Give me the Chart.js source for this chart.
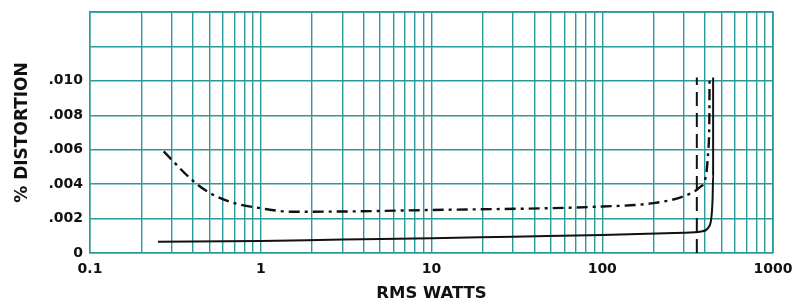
<!DOCTYPE html>
<html>
<head>
<meta charset="UTF-8">
<title>RMS Watts vs % Distortion</title>
<script src="https://cdn.jsdelivr.net/npm/chart.js"></script>
<style>
  html, body { margin: 0; padding: 0; background: #fff; }
  #wrap { width: 808px; height: 305px; }
</style>
</head>
<body>
<div id="wrap"><canvas id="distChart"></canvas></div>
<script>
// solid curve
const solidX = [0.25, 1, 3, 10, 30, 100, 300, 380, 420, 436, 443, 446, 446];
const solidY = [0.00065, 0.0007, 0.00078, 0.00085, 0.00095, 0.00105, 0.00118, 0.00125, 0.0015, 0.0021, 0.0032, 0.0045, 0.0102];

// dash-dot curve
const dashDotX = [0.27, 0.4, 0.5, 0.7, 1, 1.5, 2, 10, 100, 200, 300, 370, 405, 418, 424, 425];
const dashDotY = [0.0059, 0.0042, 0.0035, 0.0029, 0.0026, 0.0024, 0.0024, 0.0025, 0.0027, 0.0029, 0.0033, 0.0038, 0.0045, 0.006, 0.008, 0.0102];

// dashed vertical
const dashedX = [358, 358];
const dashedY = [0, 0.0102];

const xTickLabels = { 0.1: '0.1', 1: '1', 10: '10', 100: '100', 1000: '1000' };
const yTickValues = [0, 0.002, 0.004, 0.006, 0.008, 0.010, 0.012, 0.014];
const yTickLabels = ['0', '.002', '.004', '.006', '.008', '.010', '', ''];

const gridColor = '#2a9a9a';
const font = 'DejaVu Sans';

function pts(xs, ys) {
  return xs.map((x, i) => ({ x: x, y: ys[i] }));
}

const ctx = document.getElementById('distChart').getContext('2d');
new Chart(ctx, {
  type: 'line',
  data: {
    datasets: [{
      data: pts(solidX, solidY),
      borderColor: '#111',
      borderWidth: 2,
      pointRadius: 0,
      cubicInterpolationMode: 'monotone'
    }, {
      data: pts(dashDotX, dashDotY),
      borderColor: '#111',
      borderWidth: 2.4,
      borderDash: [11, 5, 3, 5],
      pointRadius: 0,
      cubicInterpolationMode: 'monotone'
    }, {
      data: pts(dashedX, dashedY),
      borderColor: '#111',
      borderWidth: 2,
      borderDash: [14, 7],
      pointRadius: 0
    }]
  },
  options: {
    responsive: true,
    maintainAspectRatio: false,
    animation: false,
    layout: { padding: { top: 12, right: 35, left: 0, bottom: 0 } },
    plugins: { legend: { display: false }, tooltip: { enabled: false } },
    scales: {
      x: {
        type: 'logarithmic',
        min: 0.1,
        max: 1000,
        afterBuildTicks: function(scale) {
          const t = [];
          for (let e = -1; e < 3; e++) {
            for (let m = 1; m < 10; m++) t.push({ value: m * Math.pow(10, e) });
          }
          t.push({ value: 1000 });
          scale.ticks = t;
        },
        afterFit: function(scale) { scale.height = 52; },
        border: { color: gridColor, width: 1.5 },
        grid: { color: gridColor, lineWidth: 1.4, drawTicks: false },
        ticks: {
          autoSkip: false,
          maxRotation: 0,
          padding: 8,
          color: '#111',
          font: { family: font, size: 14, weight: 'bold' },
          callback: function(v) {
            const k = Number(v.toPrecision(3));
            return xTickLabels[k] !== undefined ? xTickLabels[k] : '';
          }
        },
        title: {
          display: true,
          text: 'RMS WATTS',
          color: '#111',
          padding: { top: 0, bottom: 1 },
          font: { family: font, size: 16.5, weight: 'bold' }
        }
      },
      y: {
        min: 0,
        max: 0.014,
        afterBuildTicks: function(scale) {
          scale.ticks = yTickValues.map(v => ({ value: v }));
        },
        afterFit: function(scale) {
          scale.width = 90;
          scale.paddingTop = 0;
          scale.paddingBottom = 0;
        },
        border: { color: gridColor, width: 1.5 },
        grid: { color: gridColor, lineWidth: 1.4, drawTicks: false },
        ticks: {
          padding: 7,
          color: '#111',
          font: { family: font, size: 14, weight: 'bold' },
          callback: function(v, i) { return yTickLabels[i]; }
        },
        title: {
          display: true,
          text: '% DISTORTION',
          color: '#111',
          padding: { top: 12, bottom: 0 },
          font: { family: font, size: 17, weight: 'bold' }
        }
      }
    }
  },
  plugins: [{
    id: 'rightTopBorder',
    afterDraw: function(chart) {
      const a = chart.chartArea, c = chart.ctx;
      c.save();
      c.strokeStyle = gridColor;
      c.lineWidth = 1.5;
      c.beginPath();
      c.moveTo(a.left, a.top);
      c.lineTo(a.right, a.top);
      c.lineTo(a.right, a.bottom);
      c.stroke();
      c.restore();
    }
  }]
});
</script>
</body>
</html>
